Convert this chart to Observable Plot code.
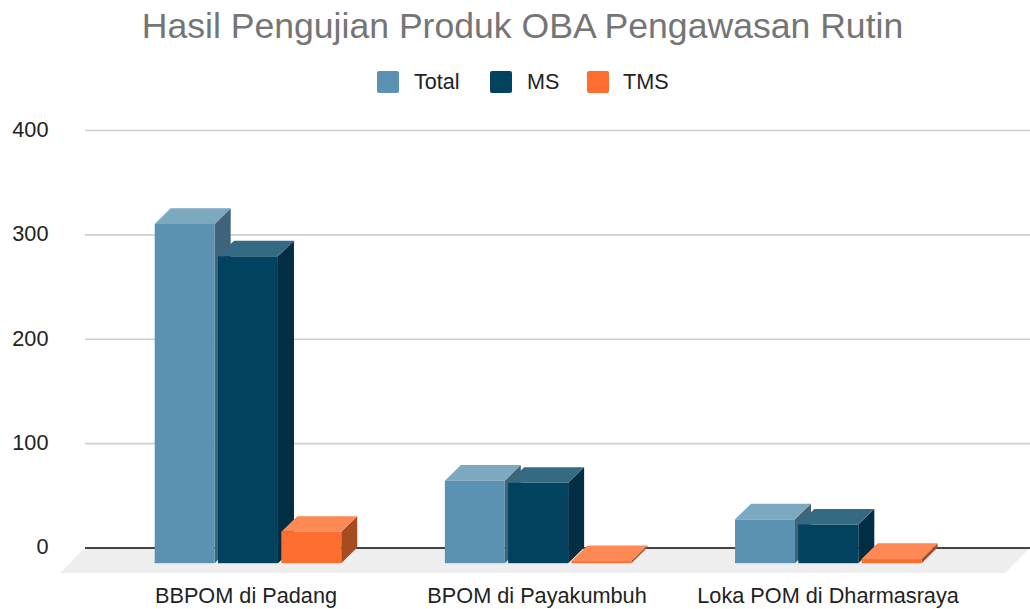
<!DOCTYPE html>
<html>
<head>
<meta charset="utf-8">
<script src="https://cdn.jsdelivr.net/npm/d3@7"></script>
<script src="https://cdn.jsdelivr.net/npm/@observablehq/plot@0.6"></script>
<style>
html,body{margin:0;padding:0;background:#fff;overflow:hidden;font-family:"Liberation Sans",Arial,sans-serif}
#title{height:56px;line-height:52px;font-size:35.6px;color:#757575;text-align:center;padding-left:15px;white-space:nowrap}
#legend{position:relative;height:49px;font-size:21.6px;color:#222}
.sw{position:absolute;top:15px;width:22px;height:22px;border-radius:2px}
.lb{position:absolute;top:14px;line-height:24px}
svg{display:block}
</style>
</head>
<body>
<div id="title">Hasil Pengujian Produk OBA Pengawasan Rutin</div>
<div id="legend"></div>
<div id="chart"></div>
<script>
const categories = ["BBPOM di Padang", "BPOM di Payakumbuh", "Loka POM di Dharmasraya"];
const seriesNames = ["Total", "MS", "TMS"];
const totalValues = [325, 79, 42];
const msValues = [294, 77, 37];
const tmsValues = [30, 2, 4];
const frontColors = ["#5b92b1", "#01435f", "#ff6e31"];
const topColors = ["#7da9c0", "#346a82", "#ff8955"];
const sideColors = ["#3f6378", "#012e42", "#a74b21"];
const legendLeft = [377, 490, 587];
const legendText = [414, 527, 623];

const seriesValues = [totalValues, msValues, tmsValues];

const legend = document.getElementById("legend");
seriesNames.forEach((n, i) => {
  const s = document.createElement("div");
  s.className = "sw"; s.style.left = legendLeft[i] + "px"; s.style.background = frontColors[i];
  const t = document.createElement("div");
  t.className = "lb"; t.style.left = legendText[i] + "px"; t.textContent = n;
  legend.append(s, t);
});

// depth of the 3D extrusion, in data units of each scale
const depthX = 0.055, depthY = 15;
const step = 0.2175, barW = 0.206;
const floorY = -24.4;

function bars(si) {
  return categories.map((c, i) => {
    const x1 = i * 0.997 + (si - 1) * step - barW / 2;
    return {id: c, x1, x2: x1 + barW, v: seriesValues[si][i]};
  });
}
function sidePts(si) {
  return bars(si).flatMap(b => [
    {id: b.id, x: b.x2, y1: -depthY, y2: b.v - depthY},
    {id: b.id, x: b.x2 + depthX, y1: 0, y2: b.v}
  ]);
}
function topPts(si) {
  return bars(si).flatMap(b => [
    {id: b.id, y: b.v - depthY, x1: b.x1, x2: b.x2},
    {id: b.id, y: b.v, x1: b.x1 + depthX, x2: b.x2 + depthX}
  ]);
}

const xDomain = [-0.56, 2.687];
const floorPts = [
  {y: floorY, x1: xDomain[0] - depthX * 1.55, x2: xDomain[1] - depthX * 1.55},
  {y: 0, x1: xDomain[0], x2: xDomain[1]}
];

const plot = Plot.plot({
  width: 1030,
  height: 504,
  marginLeft: 85,
  marginRight: 0,
  marginTop: 25,
  marginBottom: 36,
  style: {background: "transparent", overflow: "visible", fontFamily: "'Liberation Sans', Arial, sans-serif"},
  x: {domain: xDomain, axis: null},
  y: {domain: [floorY, 400], axis: null},
  marks: [
    Plot.ruleY([100, 200, 300, 400], {stroke: "#cfcfcf", strokeWidth: 1.6}),
    Plot.areaX(floorPts, {y: "y", x1: "x1", x2: "x2", fill: "#eeeeee"}),
    Plot.ruleY([0], {stroke: "#444444", strokeWidth: 2}),
    ...seriesNames.flatMap((n, si) => [
      Plot.areaY(sidePts(si), {x: "x", y1: "y1", y2: "y2", z: "id", fill: sideColors[si]}),
      Plot.areaX(topPts(si), {y: "y", x1: "x1", x2: "x2", z: "id", fill: topColors[si]}),
      Plot.rect(bars(si), {x1: "x1", x2: "x2", y1: () => -depthY, y2: d => d.v - depthY, fill: frontColors[si]})
    ]),
    Plot.axisY({ticks: [0, 100, 200, 300, 400], tickSize: 0, tickPadding: 37, dy: -0.5, fontSize: 21.7, fill: "#222", label: null, anchor: "left", marginLeft: 85}),
    Plot.axisX({ticks: [0, 1, 2], tickFormat: i => categories[i], tickSize: 0, tickPadding: 14.5, dx: -2.5, fontSize: 21.7, fill: "#222", label: null, anchor: "bottom"})
  ]
});
document.getElementById("chart").append(plot);
</script>
</body>
</html>
